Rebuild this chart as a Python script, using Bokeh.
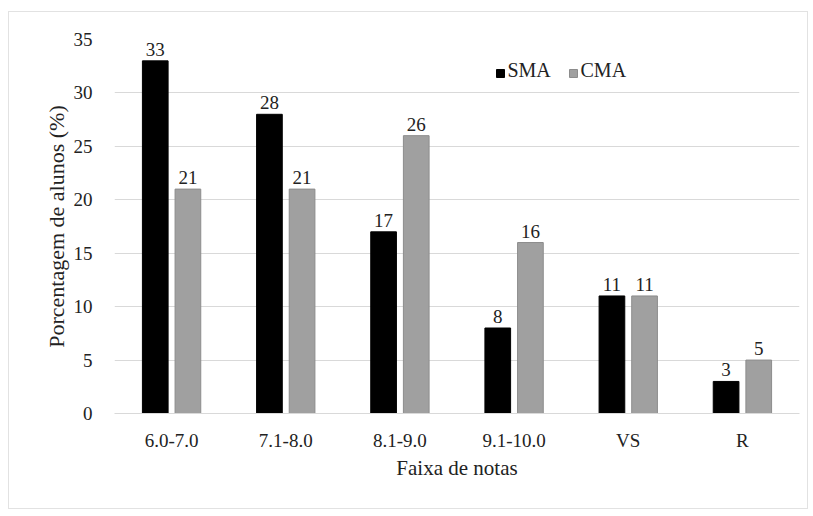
from bokeh.plotting import figure
from bokeh.models import ColumnDataSource, FactorRange, Legend, LegendItem, LabelSet, Label
from bokeh.transform import dodge
from bokeh.embed import file_html
from bokeh.resources import INLINE

categories = ["6.0-7.0", "7.1-8.0", "8.1-9.0", "9.1-10.0", "VS", "R"]
sma = [33, 28, 17, 8, 11, 3]
cma = [21, 21, 26, 16, 11, 5]
y_ticks = [0, 5, 10, 15, 20, 25, 30, 35]
series_names = ["SMA", "CMA"]

FONT = "'Liberation Serif', 'Times New Roman', serif"

src = ColumnDataSource(data=dict(
    cat=categories, sma=sma, cma=cma,
    sma_t=[str(v) for v in sma], cma_t=[str(v) for v in cma],
))

p = figure(
    x_range=FactorRange(*categories, range_padding=0),
    y_range=(0, 35),
    width=800, height=498,
    output_backend="svg", toolbar_location=None,
    min_border_left=105, min_border_right=10,
    min_border_top=27, min_border_bottom=97,
)
p.margin = (11, 0, 0, 8)
p.styles = {"border": "1px solid #e2e2e2"}
p.outline_line_color = None
p.background_fill_color = "white"
p.border_fill_color = "white"

r1 = p.vbar(x=dodge("cat", -0.143, range=p.x_range), top="sma", width=0.225,
            source=src, fill_color="#000000", line_color="#000000")
r2 = p.vbar(x=dodge("cat", 0.143, range=p.x_range), top="cma", width=0.225,
            source=src, fill_color="#a0a0a0", line_color="#8c8c8c")

for col, txt, off in (("sma", "sma_t", -0.143), ("cma", "cma_t", 0.143)):
    lab = LabelSet(x=dodge("cat", off, range=p.x_range), y=col, text=txt, source=src,
                   text_align="center", text_baseline="bottom", y_offset=5,
                   text_font=FONT, text_font_size="19px", text_color="#222222")
    p.add_layout(lab)

p.xgrid.grid_line_color = None
p.ygrid.grid_line_color = "#d9d9d9"
p.ygrid.grid_line_width = 1
p.yaxis.ticker = y_ticks

p.yaxis.axis_line_color = None
p.yaxis.major_tick_line_color = None
p.yaxis.minor_tick_line_color = None
p.yaxis.major_label_standoff = 16
p.yaxis.major_label_text_font = FONT
p.yaxis.major_label_text_font_size = "19px"
p.yaxis.major_label_text_color = "#222222"
p.yaxis.axis_label = "Porcentagem de alunos (%)"
p.yaxis.axis_label_text_font = FONT
p.yaxis.axis_label_text_font_size = "22px"
p.yaxis.axis_label_text_font_style = "normal"
p.yaxis.axis_label_text_color = "#222222"
p.yaxis.axis_label_standoff = 2

p.xaxis.axis_line_color = "#d9d9d9"
p.xaxis.major_tick_line_color = None
p.xaxis.minor_tick_line_color = None
p.xaxis.major_label_standoff = 10
p.xaxis.major_label_text_font = FONT
p.xaxis.major_label_text_font_size = "19px"
p.xaxis.major_label_text_color = "#222222"
p.xaxis.axis_label = "Faixa de notas"
p.xaxis.axis_label_text_font = FONT
p.xaxis.axis_label_text_font_size = "21px"
p.xaxis.axis_label_text_font_style = "normal"
p.xaxis.axis_label_text_color = "#222222"
p.xaxis.axis_label_standoff = 2

# legend swatches (labels drawn as serif text next to them)
legend = Legend(items=[LegendItem(label=" ", renderers=[r1]),
                       LegendItem(label=" ", renderers=[r2])],
                orientation="horizontal", location=(381, 335),
                glyph_width=10, glyph_height=10, label_standoff=2,
                label_width=47, spacing=14,
                padding=0, margin=0, border_line_color=None,
                background_fill_alpha=0, label_text_font_size="20px")
p.add_layout(legend, "center")

for name, xs in zip(series_names, (3.442, 4.082)):
    p.add_layout(Label(x=xs, y=32.1, text=name, text_align="left",
                       text_baseline="middle", text_font=FONT,
                       text_font_size="20px", text_color="#222222"))

open("out.html", "w").write(file_html(p, INLINE))
